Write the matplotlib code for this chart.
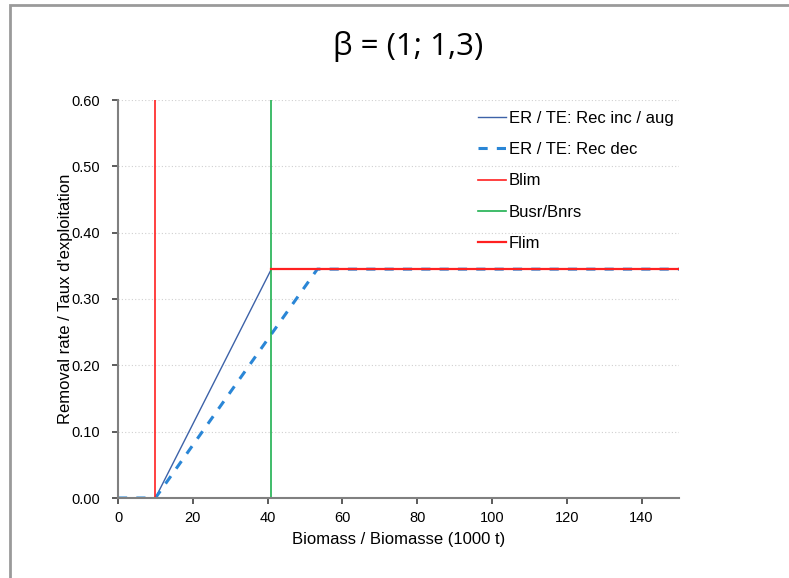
import matplotlib as mpl
mpl.use("agg")
import matplotlib.pyplot as plt
from matplotlib.patches import Rectangle

mpl.rcParams['font.family'] = ['Liberation Sans', 'DejaVu Sans']
mpl.rcParams['font.size'] = 10.5

# reference points of the harvest control rule
blim = 10.0
busr = 41.0
busr_dec = 53.3
flim = 0.345
bmax = 150.0

# ER / TE: Rec inc / aug
inc_x = [0, blim, busr, bmax]
inc_y = [0, 0, flim, flim]
# ER / TE: Rec dec
dec_x = [0, blim, busr_dec, bmax]
dec_y = [0, 0, flim, flim]

xticks = [0, 20, 40, 60, 80, 100, 120, 140]
yticks = [0.0, 0.1, 0.2, 0.3, 0.4, 0.5, 0.6]

fig = plt.figure(figsize=(7.89, 5.78), dpi=100)
# outer frame (cut by the image edge, as in a screenshot)
fig.patches.append(Rectangle((10/789, -0.1), 1.2, (578-5)/578 + 0.1,
                             transform=fig.transFigure, fill=False,
                             edgecolor="#9a9a9a", linewidth=2))

ax = fig.add_axes([118/789, 80/578, 561/789, 398/578])

ax.plot(inc_x, inc_y, color="#3d62a8", lw=1, label="ER / TE: Rec inc / aug")
ax.plot(dec_x, dec_y, color="#2a86d6", lw=2.2, dashes=(3, 3), label="ER / TE: Rec dec")
ax.plot([blim, blim], [0, 0.6], color="#ff2020", lw=1.2, label="Blim")
ax.plot([busr, busr], [0, 0.6], color="#1fb050", lw=1.2, label="Busr/Bnrs")
ax.plot([busr, bmax], [flim, flim], color="#ff2020", lw=1.6, label="Flim")

ax.set_xlim(0, 150)
ax.set_ylim(0, 0.6)
ax.set_xticks(xticks)
ax.set_yticks(yticks)
ax.set_yticklabels(["%.2f" % v for v in yticks])
for v in yticks[1:]:
    ax.axhline(v, color="#d0d0d0", lw=0.8, ls=(0, (1, 2)), zorder=0)

for s in ["top", "right"]:
    ax.spines[s].set_visible(False)
for s in ["left", "bottom"]:
    ax.spines[s].set_color("#808080")
    ax.spines[s].set_linewidth(1.5)
ax.tick_params(axis="both", colors="#404040", labelcolor="black", length=4, width=1.2)
ax.tick_params(axis="y", pad=9)
ax.tick_params(axis="x", pad=5)

ax.set_xlabel("Biomass / Biomasse (1000 t)", fontsize=12, labelpad=5.5)
ax.set_ylabel("Removal rate / Taux d'exploitation", fontsize=12, labelpad=-1)

ax.legend(loc="upper left", bbox_to_anchor=(0.642, 0.972), frameon=False,
          fontsize=12, borderpad=0, borderaxespad=0,
          handlelength=1.65, handletextpad=0.2, labelspacing=0.97)

fig.text(0.517, 0.919, "β = (1; 1,3)", ha="center", va="center", fontsize=22.5,
         family=["Open Sans", "DejaVu Sans"])

plt.savefig("out.png", dpi=100)
